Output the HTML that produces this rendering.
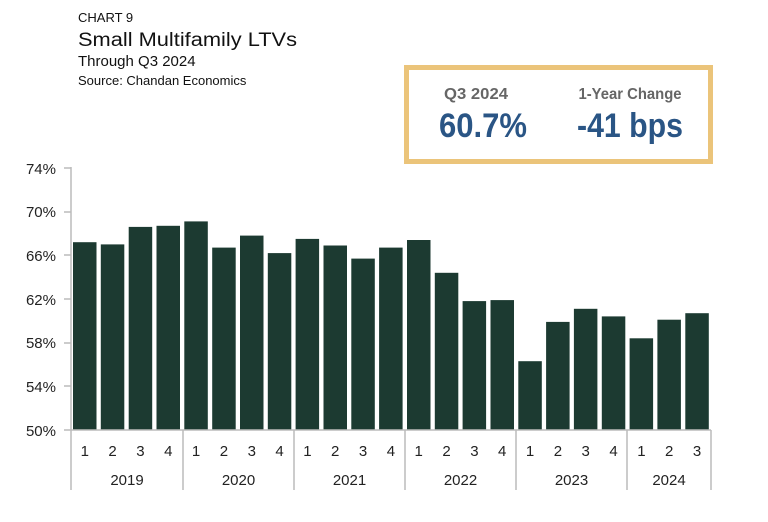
<!DOCTYPE html>
<html><head><meta charset="utf-8"><style>html,body{margin:0;padding:0;background:#fff}svg{display:block}</style></head><body>
<svg width="768" height="522" viewBox="0 0 768 522" xmlns="http://www.w3.org/2000/svg" font-family="Liberation Sans, sans-serif">
<text x="78" y="22" font-size="13" fill="#111">CHART 9</text>
<text x="78" y="46" font-size="19" fill="#111" textLength="219" lengthAdjust="spacingAndGlyphs">Small Multifamily LTVs</text>
<text x="78" y="66" font-size="15" fill="#111">Through Q3 2024</text>
<text x="78" y="85" font-size="13" fill="#111">Source: Chandan Economics</text>
<rect x="406.5" y="67.5" width="304" height="94" fill="#fff" stroke="#ebc47a" stroke-width="5"/>
<text x="476" y="99" font-size="16" font-weight="bold" fill="#666" text-anchor="middle" textLength="64" lengthAdjust="spacingAndGlyphs">Q3 2024</text>
<text x="483" y="137" font-size="34" font-weight="bold" fill="#2a5585" text-anchor="middle" textLength="88" lengthAdjust="spacingAndGlyphs">60.7%</text>
<text x="630" y="99" font-size="16" font-weight="bold" fill="#666" text-anchor="middle" textLength="103" lengthAdjust="spacingAndGlyphs">1-Year Change</text>
<text x="630" y="137" font-size="34" font-weight="bold" fill="#2a5585" text-anchor="middle" textLength="106" lengthAdjust="spacingAndGlyphs">-41 bps</text>
<g font-size="15" fill="#222" text-anchor="end">
<text x="56" y="174">74%</text><text x="56" y="217">70%</text><text x="56" y="261">66%</text><text x="56" y="305">62%</text><text x="56" y="348">58%</text><text x="56" y="392">54%</text><text x="56" y="436">50%</text>
</g>
<g fill="#1c3a31">
<rect x="73.0" y="242.2" width="23.5" height="187.8"/>
<rect x="100.8" y="244.4" width="23.5" height="185.6"/>
<rect x="128.7" y="226.9" width="23.5" height="203.1"/>
<rect x="156.5" y="225.8" width="23.5" height="204.2"/>
<rect x="184.3" y="221.4" width="23.5" height="208.6"/>
<rect x="212.2" y="247.6" width="23.5" height="182.4"/>
<rect x="240.0" y="235.6" width="23.5" height="194.4"/>
<rect x="267.8" y="253.1" width="23.5" height="176.9"/>
<rect x="295.6" y="238.9" width="23.5" height="191.1"/>
<rect x="323.5" y="245.5" width="23.5" height="184.5"/>
<rect x="351.3" y="258.6" width="23.5" height="171.4"/>
<rect x="379.1" y="247.6" width="23.5" height="182.4"/>
<rect x="407.0" y="240.0" width="23.5" height="190.0"/>
<rect x="434.8" y="272.8" width="23.5" height="157.2"/>
<rect x="462.6" y="301.1" width="23.5" height="128.9"/>
<rect x="490.5" y="300.1" width="23.5" height="129.9"/>
<rect x="518.3" y="361.2" width="23.5" height="68.8"/>
<rect x="546.1" y="321.9" width="23.5" height="108.1"/>
<rect x="573.9" y="308.8" width="23.5" height="121.2"/>
<rect x="601.8" y="316.4" width="23.5" height="113.6"/>
<rect x="629.6" y="338.3" width="23.5" height="91.7"/>
<rect x="657.4" y="319.7" width="23.5" height="110.3"/>
<rect x="685.3" y="313.2" width="23.5" height="116.8"/>
</g>
<g stroke="#bbb" stroke-width="1.5">
<line x1="71" y1="167" x2="71" y2="490"/>
<line x1="64" y1="168" x2="71" y2="168"/><line x1="64" y1="212" x2="71" y2="212"/><line x1="64" y1="255" x2="71" y2="255"/><line x1="64" y1="299" x2="71" y2="299"/><line x1="64" y1="343" x2="71" y2="343"/><line x1="64" y1="386" x2="71" y2="386"/>
<line x1="64" y1="430" x2="711" y2="430"/>
<line x1="183" y1="430" x2="183" y2="490"/><line x1="294" y1="430" x2="294" y2="490"/><line x1="405" y1="430" x2="405" y2="490"/><line x1="516" y1="430" x2="516" y2="490"/><line x1="627" y1="430" x2="627" y2="490"/><line x1="711" y1="430" x2="711" y2="490"/>
</g>
<g font-size="15" fill="#222" text-anchor="middle">
<text x="84.8" y="456">1</text><text x="112.6" y="456">2</text><text x="140.4" y="456">3</text><text x="168.3" y="456">4</text>
<text x="196.1" y="456">1</text><text x="223.9" y="456">2</text><text x="251.8" y="456">3</text><text x="279.6" y="456">4</text>
<text x="307.4" y="456">1</text><text x="335.2" y="456">2</text><text x="363.1" y="456">3</text><text x="390.9" y="456">4</text>
<text x="418.7" y="456">1</text><text x="446.6" y="456">2</text><text x="474.4" y="456">3</text><text x="502.2" y="456">4</text>
<text x="530.0" y="456">1</text><text x="557.9" y="456">2</text><text x="585.7" y="456">3</text><text x="613.5" y="456">4</text>
<text x="641.4" y="456">1</text><text x="669.2" y="456">2</text><text x="697.0" y="456">3</text>
</g>
<g font-size="15" fill="#222" text-anchor="middle">
<text x="127" y="485">2019</text><text x="238.5" y="485">2020</text><text x="349.5" y="485">2021</text><text x="460.5" y="485">2022</text><text x="571.5" y="485">2023</text><text x="669" y="485">2024</text>
</g>
</svg>
</body></html>
